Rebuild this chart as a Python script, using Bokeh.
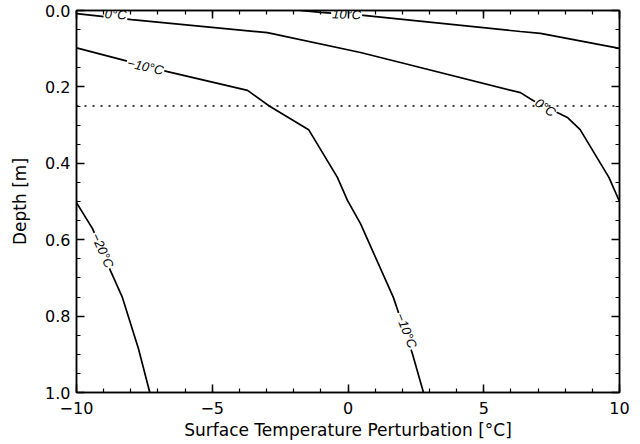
from bokeh.plotting import figure
from bokeh.models import Range1d, LinearAxis, Span, NumeralTickFormatter, FixedTicker, CustomJSTickFormatter
from bokeh.core.properties import value
from bokeh.embed import file_html
from bokeh.resources import INLINE

# contour lines: (surface temperature perturbation [°C], depth [m])
c10_x = [-1.75, -1.01, 0.57, 6.35, 7.09, 10.0]
c10_z = [0.0, 0.005, 0.013, 0.055, 0.060, 0.099]

c0_x = [-10.0, -7.97, -2.97, 0.46, 1.93, 6.35, 6.83, 8.08, 8.55, 9.61, 10.0]
c0_z = [0.008, 0.024, 0.058, 0.110, 0.136, 0.215, 0.236, 0.280, 0.312, 0.437, 0.500]

cm10_x = [-10.0, -6.65, -3.70, -2.90, -1.45, -0.39, -0.02, 0.46, 1.67, 2.37, 2.78]
cm10_z = [0.098, 0.160, 0.209, 0.250, 0.312, 0.437, 0.497, 0.558, 0.751, 0.898, 1.0]

cm20_x = [-10.0, -9.41, -8.75, -8.31, -7.72, -7.30]
cm20_z = [0.503, 0.571, 0.681, 0.751, 0.885, 1.0]

label_text = ["0°C", "10°C", "−10°C", "0°C", "−20°C", "−10°C"]
label_x = [-8.56, -0.05, -7.46, 7.27, -9.04, 2.15]
label_z = [0.010, 0.010, 0.147, 0.254, 0.628, 0.838]
label_angle = [-0.05, -0.04, -0.22, -0.62, -1.15, -1.2]

x_ticks = [-10, -5, 0, 5, 10]
x_minor = list(range(-10, 11))
y_ticks = [0.0, 0.2, 0.4, 0.6, 0.8, 1.0]
y_minor = [i * 0.05 for i in range(21)]

ref_depth = 0.25

p = figure(width=640, height=444, output_backend="svg", toolbar_location=None,
           x_range=Range1d(-10, 10), y_range=Range1d(1.0, 0.0),
           min_border_left=76, min_border_right=21, min_border_top=10, min_border_bottom=52)
p.grid.visible = False
p.outline_line_color = "black"
p.outline_line_width = 1.5
p.background_fill_color = "white"
p.border_fill_color = "white"

for xs, zs in [(c10_x, c10_z), (c0_x, c0_z), (cm10_x, cm10_z), (cm20_x, cm20_z)]:
    p.line(xs, zs, line_color="black", line_width=1.7)

p.add_layout(Span(location=ref_depth, dimension="width", line_color="black",
                  line_width=1.6, line_dash="2 6"))

p.text(x=label_x, y=label_z, text=label_text, angle=label_angle,
       text_font=value("Liberation Sans"), text_font_size="13px", text_font_style="italic",
       text_align="center", text_baseline="middle", text_color="black",
       background_fill_color="white", padding=1)

font = "DejaVu Sans"
xa = p.xaxis[0]
ya = p.yaxis[0]
xa.ticker = FixedTicker(ticks=x_ticks, minor_ticks=x_minor)
ya.ticker = FixedTicker(ticks=y_ticks, minor_ticks=y_minor)
xa.major_label_overrides = {-10: "−10", -5: "−5", 0: "0", 5: "5", 10: "10"}
ya.formatter = NumeralTickFormatter(format="0.0")
xa.axis_label = "Surface Temperature Perturbation [°C]"
ya.axis_label = "Depth [m]"

top = LinearAxis(ticker=FixedTicker(ticks=x_ticks, minor_ticks=x_minor),
                 formatter=CustomJSTickFormatter(code="return ''"))
right = LinearAxis(ticker=FixedTicker(ticks=y_ticks, minor_ticks=y_minor),
                   formatter=CustomJSTickFormatter(code="return ''"))
p.add_layout(top, "above")
p.add_layout(right, "right")

for ax in [xa, ya, top, right]:
    ax.axis_line_color = "black"
    ax.axis_line_width = 1.5
    ax.major_tick_in = 8
    ax.major_tick_out = 0
    ax.minor_tick_in = 4
    ax.minor_tick_out = 0
    ax.major_tick_line_color = "black"
    ax.minor_tick_line_color = "black"
    ax.major_tick_line_width = 1.5
    ax.minor_tick_line_width = 1.2
    ax.major_label_text_font = font
    ax.major_label_text_font_size = "16px"
    ax.major_label_text_color = "black"
    ax.axis_label_text_font = font
    ax.axis_label_text_font_size = "17px"
    ax.axis_label_text_font_style = "normal"
    ax.axis_label_text_color = "black"
for ax in [top, right]:
    ax.major_label_standoff = 0
xa.major_label_standoff = 9
xa.axis_label_standoff = 3
ya.major_label_standoff = 6
ya.axis_label_standoff = 12

open("out.html", "w").write(file_html(p, INLINE))
